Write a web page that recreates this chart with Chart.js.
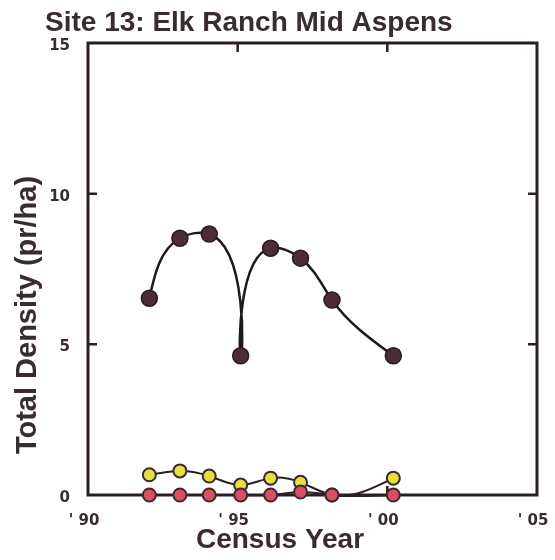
<!DOCTYPE html>
<html lang="en">
<head>
<meta charset="UTF-8">
<title>Site 13: Elk Ranch Mid Aspens</title>
<script src="https://cdn.jsdelivr.net/npm/chart.js"></script>
<style>
    body {
        margin: 0;
        background: #fff;
    }
    .wrap {
        width: 555px;
        height: 560px;
        position: relative;
    }
</style>
</head>
<body>
<div class="wrap"><canvas id="densityChart"></canvas></div>
<script>
// values
var chartTitle = 'Site 13: Elk Ranch Mid Aspens';
var xTitle = 'Census Year';
var yTitle = 'Total Density (pr/ha)';

var years = [1992.05, 1993.07, 1994.05, 1995.1, 1996.1, 1997.1, 1998.15, 2000.2];
var totalDensity = [6.53, 8.52, 8.66, 4.62, 8.19, 7.86, 6.47, 4.62];
var yellowDensity = [0.67, 0.8, 0.63, 0.33, 0.56, 0.42, 0, 0.56];
var redDensity = [0, 0, 0, 0, 0, 0.1, 0, 0];

var xTicks = [1990, 1995, 2000, 2005];
var xTickLabels = ["' 90", "' 95", "' 00", "' 05"];
var yTicks = [0, 5, 10, 15];

var ink = '#3a2b2f';

function toPoints(vals) {
    return years.map(function(y, i) { return { x: y, y: vals[i] }; });
}

// parametric natural spline through the points (chord length parameter),
// written into the bezier control points Chart.js uses for the line
function splineCps(pts) {
    var n = pts.length;
    if (n < 3) return;
    var h = [];
    for (var i = 0; i < n - 1; i++) {
        h.push(Math.hypot(pts[i + 1].x - pts[i].x, pts[i + 1].y - pts[i].y) || 1);
    }
    ['x', 'y'].forEach(function(k) {
        var c = pts.map(function(p) { return p[k]; });
        var M = new Array(n).fill(0);
        var m = n - 2;
        var diag = [], up = [], low = [], rhs = [];
        for (var i = 1; i <= n - 2; i++) {
            low.push(h[i - 1]);
            diag.push(2 * (h[i - 1] + h[i]));
            up.push(h[i]);
            rhs.push(6 * ((c[i + 1] - c[i]) / h[i] - (c[i] - c[i - 1]) / h[i - 1]));
        }
        for (var j = 1; j < m; j++) {
            var w = low[j] / diag[j - 1];
            diag[j] -= w * up[j - 1];
            rhs[j] -= w * rhs[j - 1];
        }
        var sol = new Array(m);
        sol[m - 1] = rhs[m - 1] / diag[m - 1];
        for (var j = m - 2; j >= 0; j--) sol[j] = (rhs[j] - up[j] * sol[j + 1]) / diag[j];
        for (var j = 0; j < m; j++) M[j + 1] = sol[j];
        for (var i = 0; i < n - 1; i++) {
            var s = (c[i + 1] - c[i]) / h[i];
            var d0 = s - h[i] * (2 * M[i] + M[i + 1]) / 6;
            var d1 = s + h[i] * (M[i] + 2 * M[i + 1]) / 6;
            pts[i]['cp2' + k] = c[i] + d0 * h[i] / 3;
            pts[i + 1]['cp1' + k] = c[i + 1] - d1 * h[i] / 3;
        }
        pts[0]['cp1' + k] = c[0];
        pts[n - 1]['cp2' + k] = c[n - 1];
    });
}

var smoothLines = {
    id: 'smoothLines',
    beforeDatasetDraw: function(chart, args) {
        var meta = args.meta;
        if (meta.dataset && meta.dataset.updateControlPoints) {
            meta.dataset.updateControlPoints(chart.chartArea, meta.iScale.axis);
        }
        splineCps(meta.data);
    }
};

// box round the plot with inward tick marks
var frame = {
    id: 'frame',
    beforeDatasetsDraw: function(chart) {
        var ctx = chart.ctx;
        var a = chart.chartArea;
        var xs = chart.scales.x, ys = chart.scales.y;
        var tl = 9;
        ctx.save();
        ctx.strokeStyle = '#2a1e22';
        ctx.lineWidth = 3;
        ctx.strokeRect(a.left, a.top, a.right - a.left, a.bottom - a.top);
        ctx.lineWidth = 2.5;
        ctx.beginPath();
        xTicks.slice(1, -1).forEach(function(v) {
            var px = xs.getPixelForValue(v);
            ctx.moveTo(px, a.top); ctx.lineTo(px, a.top + tl);
            ctx.moveTo(px, a.bottom); ctx.lineTo(px, a.bottom - tl);
        });
        yTicks.slice(1, -1).forEach(function(v) {
            var py = ys.getPixelForValue(v);
            ctx.moveTo(a.left, py); ctx.lineTo(a.left + tl, py);
            ctx.moveTo(a.right, py); ctx.lineTo(a.right - tl, py);
        });
        ctx.stroke();
        ctx.restore();
    }
};

var texts = {
    id: 'texts',
    afterDraw: function(chart) {
        var ctx = chart.ctx;
        ctx.save();
        ctx.fillStyle = ink;
        ctx.font = 'bold 28px "Liberation Sans", Arial, sans-serif';
        ctx.textBaseline = 'alphabetic';
        ctx.textAlign = 'left';
        ctx.fillText(chartTitle, 45, 31);
        ctx.textAlign = 'center';
        ctx.fillText(xTitle, 280, 548);
        ctx.font = 'bold 29px "Liberation Sans", Arial, sans-serif';
        ctx.translate(36, 315);
        ctx.rotate(-Math.PI / 2);
        ctx.fillText(yTitle, 0, 0);
        ctx.restore();
    }
};

var tickFont = { family: '"DejaVu Sans", Verdana, sans-serif', size: 15, weight: 'bold' };

new Chart(document.getElementById('densityChart'), {
    type: 'line',
    data: {
        datasets: [{
            label: 'Total',
            data: toPoints(totalDensity),
            borderColor: '#1e1a1b',
            borderWidth: 2.5,
            pointRadius: 8,
            pointBackgroundColor: '#4c2c35',
            pointBorderColor: '#2b1a1f',
            pointBorderWidth: 1.5,
            tension: 0.4,
            clip: false
        }, {
            label: 'Red',
            data: toPoints(redDensity),
            borderColor: '#2a2022',
            borderWidth: 2,
            pointRadius: 6.5,
            pointBackgroundColor: '#dd4d63',
            pointBorderColor: '#3a2a30',
            pointBorderWidth: 2,
            tension: 0.4,
            clip: false
        }, {
            label: 'Yellow',
            data: toPoints(yellowDensity),
            borderColor: '#2a2022',
            borderWidth: 2,
            pointRadius: 6.5,
            pointBackgroundColor: '#e6df3c',
            pointBorderColor: '#3a2a30',
            pointBorderWidth: 2,
            tension: 0.4,
            clip: false
        }]
    },
    options: {
        responsive: true,
        maintainAspectRatio: false,
        animation: false,
        layout: { padding: { top: 43, right: 18, left: 0, bottom: 0 } },
        plugins: {
            legend: { display: false },
            tooltip: { enabled: false },
            title: { display: false }
        },
        scales: {
            x: {
                type: 'linear',
                min: 1990,
                max: 2005,
                afterBuildTicks: function(axis) {
                    axis.ticks = xTicks.map(function(v) { return { value: v }; });
                },
                afterFit: function(s) {
                    s.height = 65;
                    s.paddingLeft = 0;
                    s.paddingRight = 0;
                },
                grid: { display: false, drawTicks: false },
                border: { display: false },
                ticks: {
                    font: tickFont,
                    color: ink,
                    padding: 17,
                    labelOffset: -4,
                    maxRotation: 0,
                    autoSkip: false,
                    callback: function(value) { return xTickLabels[xTicks.indexOf(value)]; }
                }
            },
            y: {
                type: 'linear',
                min: 0,
                max: 15,
                afterBuildTicks: function(axis) {
                    axis.ticks = yTicks.map(function(v) { return { value: v }; });
                },
                afterFit: function(s) {
                    s.width = 88;
                    s.paddingTop = 0;
                    s.paddingBottom = 0;
                },
                grid: { display: false, drawTicks: false },
                border: { display: false },
                ticks: {
                    font: tickFont,
                    color: ink,
                    padding: 18,
                    labelOffset: 3
                }
            }
        }
    },
    plugins: [smoothLines, frame, texts]
});
</script>
</body>
</html>
